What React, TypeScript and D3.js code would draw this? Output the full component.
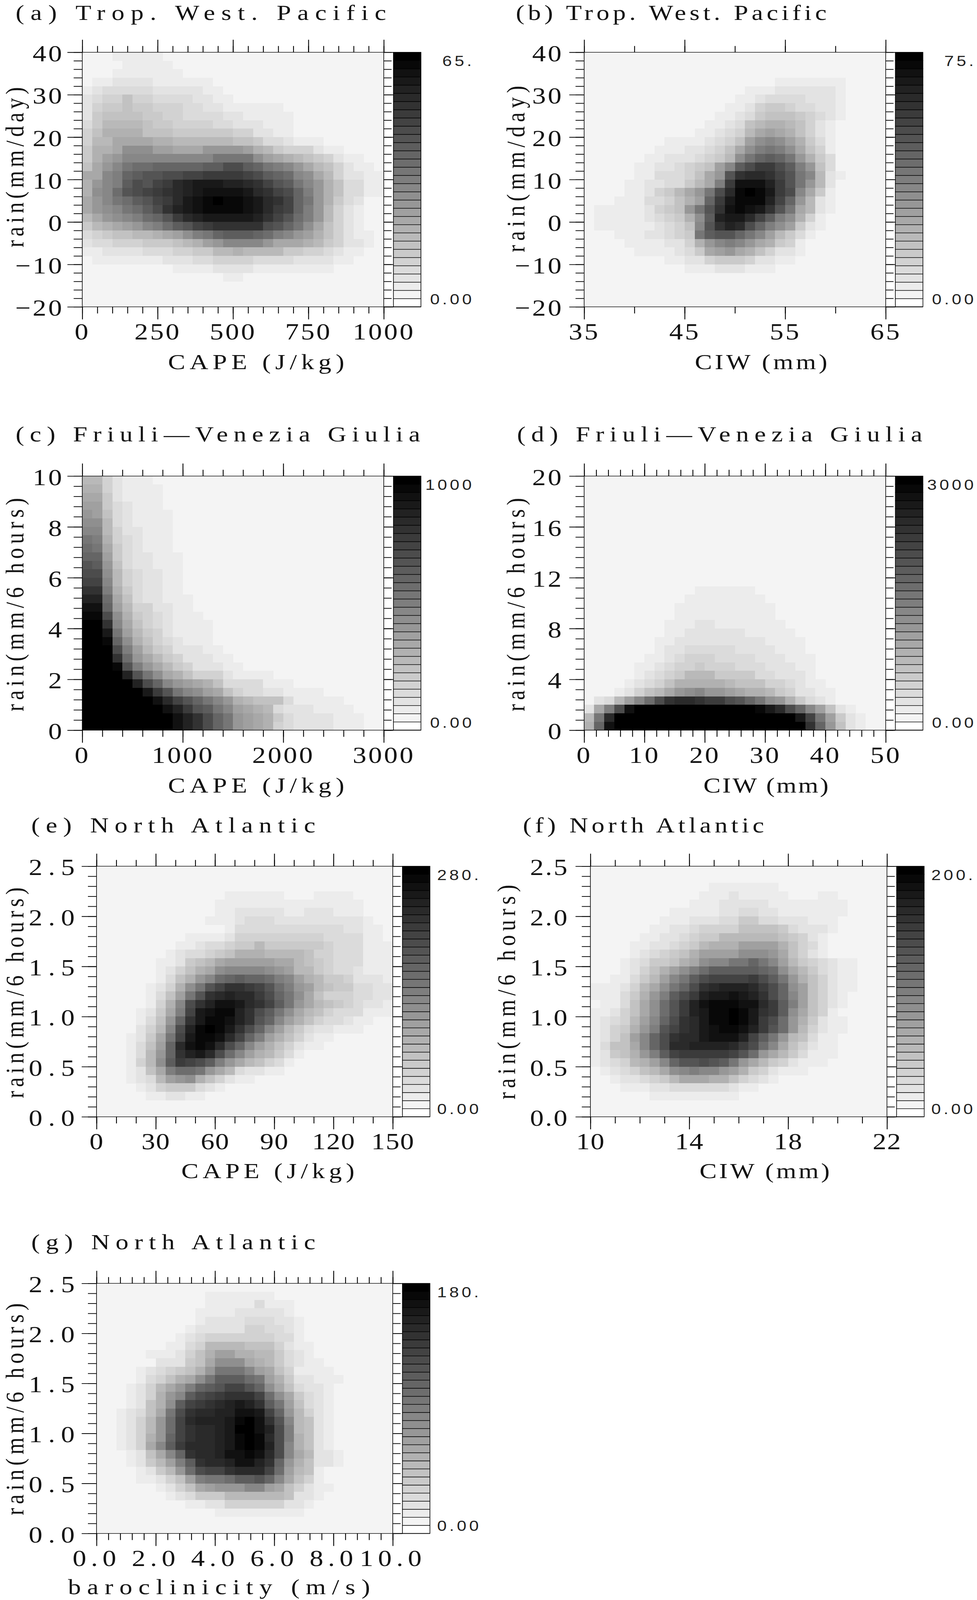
import * as d3 from "d3";
import { useEffect, useRef } from "react";

// Each row runs top to bottom: [first column, ...grey levels]; cells outside the run are level 1.
const tropCape: number[][] = [
  [3, 2,2,2,2,2],
  [4, 2,2,2,2,2],
  [3, 2,2,2,2,2,2,2],
  [1, 2,2,3,3,3,3,2,2,2,2,2,2],
  [0, 2,3,4,4,4,4,4,3,3,3,3,3,2,2],
  [0, 3,4,5,5,7,5,5,4,4,4,4,3,3,2,2],
  [0, 3,5,6,6,7,6,6,5,5,5,4,4,3,3,2,2,2,2,2,2],
  [0, 3,6,7,7,7,7,6,6,5,5,4,4,4,4,3,3,2,2,2,2,2],
  [0, 4,6,8,8,8,8,7,6,6,5,5,5,5,4,4,3,3,3,2,2,2],
  [0, 5,7,9,9,9,9,7,7,7,6,6,6,6,6,6,5,5,3,3,2,2],
  [0, 5,8,8,10,10,10,10,9,9,8,8,8,8,8,8,7,7,6,4,4,3,2,2,2],
  [0, 6,9,9,10,13,13,13,11,11,10,10,10,12,12,12,12,11,9,8,6,5,5,5,3,2,2],
  [0, 6,9,11,12,14,14,14,14,14,14,14,14,14,16,16,16,16,13,11,10,9,8,7,6,5,3,2,2],
  [0, 7,10,12,14,16,17,17,18,18,18,18,18,19,19,21,21,19,18,16,15,14,12,10,8,7,5,3,2,2],
  [0, 10,10,14,15,18,19,20,20,21,21,22,22,23,23,23,23,22,21,19,18,17,14,13,10,8,5,3,3,2,2],
  [0, 9,12,14,15,19,21,20,22,23,25,26,27,27,27,26,26,25,24,22,20,19,16,14,12,9,7,4,4,2,2],
  [0, 9,13,14,17,20,21,22,23,24,25,26,27,28,28,28,28,27,25,24,22,21,18,15,12,9,7,4,4,2,2],
  [0, 10,12,14,16,17,19,20,22,23,25,27,28,29,30,29,29,28,27,25,24,22,18,16,12,9,6,4,3],
  [0, 10,12,13,14,16,17,19,21,24,26,27,28,29,29,29,29,28,27,25,23,22,18,15,12,8,5,3,2],
  [0, 8,10,12,13,14,15,17,18,20,23,25,26,27,27,27,27,27,26,24,22,20,17,15,12,8,5,3,2],
  [0, 6,8,9,10,11,12,14,15,17,19,20,22,23,24,24,24,24,24,21,20,18,16,13,10,7,5,3,2],
  [0, 4,5,6,7,7,8,8,9,10,11,13,15,16,18,19,19,19,18,17,15,14,12,11,9,7,5,3,2,2],
  [0, 3,4,4,5,5,5,6,6,6,7,8,9,11,12,14,14,14,14,12,10,10,10,9,8,6,5,3,3,2],
  [0, 2,2,3,3,3,3,4,4,4,5,5,6,6,8,8,9,8,8,8,8,6,6,5,5,4,3,2,2],
  [1, 2,2,2,2,2,2,2,3,3,3,4,4,5,5,5,5,4,4,4,4,3,3,3,3,2,2],
  [9, 2,2,2,2,3,3,3,3,2,2,2,2,2,2,2,2],
  [14, 2,2],
  [],
  [],
  [],
];

const tropCiw: number[][] = [
  [],
  [],
  [],
  [19, 2,2,2,2,2,2,2],
  [16, 2,2,2,3,3,3,3,3,3,2],
  [15, 2,2,3,4,4,4,4,3,3,3,2],
  [14, 2,2,3,5,6,6,5,4,4,3,3,2],
  [13, 2,2,3,4,6,7,7,7,6,5,4,3,2],
  [12, 2,2,3,4,7,8,9,9,8,7,5,3,2],
  [11, 2,2,3,4,5,8,10,11,10,9,7,5,3,2],
  [8, 2,2,2,2,3,4,5,7,11,13,14,13,11,9,6,4,2],
  [7, 2,2,2,3,3,4,5,7,10,13,15,16,15,13,10,7,5,2],
  [6, 2,2,3,3,3,4,5,6,8,13,16,18,19,18,16,12,9,6,4],
  [5, 2,2,3,3,4,5,6,7,11,14,19,21,23,23,21,19,15,12,7,4],
  [5, 2,2,4,4,4,5,7,10,12,20,24,25,25,24,22,20,16,14,8,3,2],
  [4, 2,2,3,3,4,4,6,8,10,15,23,28,28,28,26,23,20,16,12,8,3],
  [4, 2,2,3,5,6,8,10,12,16,21,25,29,30,29,27,23,21,14,10,6,2],
  [3, 2,2,2,4,4,5,7,9,11,18,23,27,29,29,29,26,22,18,12,8,3,2],
  [1, 2,2,2,2,2,3,5,6,7,12,16,20,24,28,29,28,27,24,20,16,10,8,3,2],
  [1, 2,2,2,2,2,3,4,5,6,9,13,19,26,27,27,25,22,19,15,13,9,5,2],
  [1, 2,2,2,2,2,2,3,4,5,7,14,20,24,26,25,21,18,15,13,11,6,3,2],
  [3, 2,2,2,3,3,4,5,6,16,19,20,20,18,16,14,11,8,6,4,2],
  [4, 2,2,2,2,3,3,5,9,12,14,15,14,12,10,9,6,5,2],
  [5, 2,2,2,2,3,4,6,10,11,12,10,9,7,5,3,3,2],
  [8, 2,2,3,3,5,6,6,6,5,3,3,2,2],
  [10, 2,2,2,3,3,3,2,2,2],
  [],
  [],
  [],
  [],
];

const friuliCape: number[][] = [
  [0, 8,8,5,3,2,2,2],
  [0, 9,9,5,3,2,2,2,2],
  [0, 10,10,6,3,2,2,2,2],
  [0, 11,11,6,4,3,2,2,2],
  [0, 12,11,7,4,3,2,2,2,2],
  [0, 13,13,8,4,3,2,2,2,2],
  [0, 14,14,8,5,3,3,2,2,2],
  [0, 16,15,9,5,4,3,2,2,2],
  [0, 17,16,10,6,4,3,2,2,2],
  [0, 18,18,11,6,4,3,3,2,2,2],
  [0, 20,19,12,7,4,3,3,2,2,2],
  [0, 21,21,13,8,5,4,3,3,2,2],
  [0, 22,22,14,8,5,4,3,3,2,2],
  [0, 24,24,15,9,6,4,3,3,2,2],
  [0, 26,26,17,10,7,4,3,3,2,2,2],
  [0, 28,28,18,11,8,5,5,3,3,2,2],
  [0, 29,29,21,13,9,6,5,4,3,2,2,2],
  [0, 30,30,24,14,10,7,5,4,3,2,2,2,2],
  [0, 30,30,27,16,11,8,6,5,3,2,2,2,2],
  [0, 30,30,29,18,13,9,7,5,4,3,2,2,2],
  [0, 30,30,30,21,15,11,8,6,5,3,3,3,2,2],
  [0, 30,30,30,24,17,12,10,8,6,5,3,3,3,2,2],
  [0, 30,30,30,29,20,15,12,10,8,6,5,3,3,3,2,2],
  [0, 30,30,30,30,26,20,16,13,10,9,7,5,5,5,3,2,2,2,2],
  [0, 30,30,30,30,30,26,21,18,14,12,11,10,9,7,4,4,4,4,2,2,2],
  [0, 30,30,30,30,30,30,27,23,20,16,14,13,11,10,7,5,4,4,3,3,2,2,2,2],
  [0, 30,30,30,30,30,30,30,28,25,22,20,18,16,14,12,9,8,7,7,7,4,2,2,2,2,2],
  [0, 30,30,30,30,30,30,30,30,28,26,23,20,19,16,14,11,10,9,8,4,3,3,3,2,2,2,2],
  [0, 30,30,30,30,30,30,30,30,30,28,26,24,21,18,16,12,11,10,9,6,4,3,3,3,3,2,2,2],
  [0, 30,30,30,30,30,30,30,30,30,28,26,24,21,18,16,12,11,10,9,5,4,3,3,3,3,2,2,2],
];

const friuliCiw: number[][] = [
  [], [], [], [], [], [], [], [], [], [], [], [], [],
  [11, 2,2,2,2,2,2],
  [10, 2,2,2,2,2,2,2,2],
  [9, 2,2,2,2,2,2,2,2,2,2],
  [9, 2,2,2,2,2,2,2,2,2,2],
  [8, 2,2,2,3,3,2,2,2,2,2,2,2],
  [8, 2,2,3,3,3,3,3,3,2,2,2,2,2],
  [7, 2,2,3,3,3,3,3,3,3,3,3,2,2,2,2],
  [7, 2,3,3,4,4,4,4,4,3,3,3,3,2,2,2],
  [6, 2,2,3,4,5,5,5,4,4,4,4,3,3,3,2,2,2],
  [5, 2,2,3,4,5,5,6,5,5,5,4,4,4,3,3,3,2,2],
  [5, 2,3,4,5,6,8,8,8,6,6,6,6,4,4,3,3,3,2],
  [4, 2,3,4,5,7,9,9,9,9,9,8,7,7,7,5,5,4,3,2,2],
  [3, 2,3,5,7,8,10,12,13,14,12,12,11,10,9,9,8,6,5,3,3,2,2],
  [1, 3,4,8,11,14,17,21,24,25,25,24,23,23,21,20,18,16,13,12,9,6,4,3,2],
  [0, 3,10,15,21,28,30,30,30,30,30,30,30,30,30,30,30,30,29,27,25,21,18,14,11,7,3,2],
  [0, 8,16,25,30,30,30,30,30,30,30,30,30,30,30,30,30,30,30,30,30,30,27,22,16,11,6,3,2],
  [0, 9,18,28,30,30,30,30,30,30,30,30,30,30,30,30,30,30,30,30,30,30,30,24,18,12,7,3,2],
];

const atlanticCape: number[][] = [
  [], [], [],
  [13, 2,2,2,2,2,2,1,1,1,2,2,2,2],
  [12, 2,2,2,2,2,2,2,2,2,2,2,2,2,2,2],
  [12, 2,2,3,3,3,3,3,2,2,3,3,3,2,2,2],
  [11, 2,2,2,3,4,4,4,3,3,3,3,3,3,3,3,3,2],
  [13, 2,4,4,4,4,4,4,4,4,4,4,4,3,3,2,2],
  [9, 2,2,2,2,3,5,5,5,5,5,5,5,5,5,4,4,4,4,2,2],
  [8, 2,2,3,4,4,5,6,6,8,6,6,6,6,6,6,5,4,4,4,2,2,2],
  [7, 2,3,4,4,5,6,7,9,9,9,8,8,8,8,7,5,5,4,4,4,2,2,2],
  [6, 2,2,3,6,7,8,10,11,11,11,11,11,10,10,8,7,6,5,4,4,4,2,2,2],
  [6, 2,3,5,7,9,10,13,14,14,14,14,13,12,11,8,8,6,5,4,4,3,2,2,2],
  [6, 2,4,7,9,12,14,17,18,19,18,18,17,15,14,11,9,8,6,6,5,3,3,3,2],
  [5, 2,3,5,9,13,16,20,22,24,24,23,22,20,17,15,12,11,8,7,6,6,4,4,3,3],
  [5, 2,4,7,11,16,20,24,25,26,25,25,23,21,18,16,13,10,7,5,5,5,4,4,3,3],
  [5, 2,5,9,14,21,24,26,28,28,27,25,24,22,19,16,12,10,8,7,6,5,4,3,3,2],
  [4, 2,3,6,10,15,22,27,28,29,29,26,24,21,19,16,13,10,8,7,5,4,4,4,2,2,2],
  [4, 2,4,7,12,18,24,27,29,29,28,26,24,20,18,14,11,9,7,5,4,4,3,2,2],
  [4, 3,5,8,14,21,26,29,30,29,27,24,21,18,14,11,8,6,4,3,3,2,2,2],
  [3, 2,3,6,10,16,22,27,29,29,28,25,22,18,15,11,9,7,5,3,2,2],
  [3, 2,4,7,11,18,25,28,29,28,25,21,18,14,11,9,7,5,3,2,2],
  [3, 2,4,8,12,18,24,26,27,25,21,17,14,11,9,8,6,4,2],
  [3, 2,5,8,13,19,23,22,21,19,15,12,10,8,7,5,4,2],
  [3, 2,3,7,10,15,17,17,16,12,10,8,4,3,3,2,2],
  [3, 2,3,4,8,11,12,13,9,7,5,3,2,2],
  [4, 2,3,5,6,6,6,4,3,2],
  [5, 2,2,3,3,2,2],
  [],
  [],
];

const atlanticCiw: number[][] = [
  [], [],
  [12, 2,2,2,2,2,2,2],
  [11, 2,2,2,3,2,2,2,2,2,1,1,1,2,2],
  [10, 2,2,2,3,3,3,3,3,2,2,2,2,2,2,2,2],
  [8, 2,2,2,2,2,3,3,4,4,3,3,2,2,2,2,2,2,2],
  [7, 2,2,2,3,3,3,4,4,6,6,4,4,3,3,3,2,2,2],
  [6, 2,2,3,3,4,5,5,5,5,7,7,7,7,6,4,3,3,3,2],
  [5, 2,2,3,3,4,5,6,6,8,8,8,8,8,8,7,6,5,3,2],
  [4, 2,2,3,3,4,5,6,8,9,9,9,11,11,11,11,9,7,5,4,2],
  [4, 2,3,4,5,6,7,9,11,11,11,11,13,13,13,12,10,7,5,3,2],
  [3, 2,3,4,6,6,7,9,10,13,14,14,16,16,18,16,14,11,8,6,5,4,3,2,2],
  [3, 2,3,5,7,9,11,13,15,17,19,19,19,19,19,18,17,13,10,8,6,4,3,2,2],
  [2, 2,2,4,6,8,11,14,16,19,21,22,22,22,22,23,21,19,16,12,9,7,5,3,2,2],
  [0, 2,2,2,3,5,8,10,13,16,18,21,24,25,26,26,26,25,23,21,18,13,11,7,5,3,2,2],
  [0, 2,2,2,4,6,9,12,15,19,21,23,26,27,27,28,27,26,24,21,18,14,11,7,5,3,2],
  [1, 2,2,4,7,10,13,17,20,23,26,28,29,29,29,28,28,25,23,19,15,11,7,5,3,2],
  [0, 2,2,3,5,7,10,13,17,20,23,26,27,29,29,30,29,27,24,23,19,13,10,7,5,2],
  [0, 2,3,4,5,8,11,14,18,21,24,25,27,29,29,30,29,27,23,21,17,12,9,6,3,2,2],
  [0, 2,3,5,6,9,12,15,20,22,24,25,27,28,29,29,28,26,23,20,17,12,8,5,3,2,2],
  [0, 2,3,5,7,11,14,18,21,24,25,25,27,28,28,28,26,22,19,16,12,8,7,4,2,2],
  [0, 2,4,7,7,10,14,18,21,25,25,26,26,26,26,25,23,21,17,14,10,7,5,3,2,2],
  [0, 2,3,6,7,9,12,15,19,22,23,23,23,23,23,22,20,17,12,10,8,6,4,2,2,2],
  [0, 2,3,4,5,8,9,11,14,18,20,20,21,20,19,16,12,10,8,6,5,3,2,2,2],
  [1, 2,3,4,5,7,8,10,13,14,15,14,14,12,11,9,6,5,3,2,2,2],
  [2, 2,3,3,4,5,6,8,10,10,10,9,9,7,5,4,3,2],
  [3, 2,2,2,3,3,4,4,4,4,4,4,3,2,2],
  [6, 2,2,2,2,2,2,2,2,2],
  [],
  [],
];

const atlanticBaroc: number[][] = [
  [],
  [11, 2,2,2,2,2,2,2],
  [11, 2,2,2,2,2,4,2,2,2],
  [10, 2,2,2,2,3,3,3,3,3,2],
  [10, 2,3,3,3,3,4,4,4,3,3,2],
  [9, 2,3,3,3,3,3,5,5,4,4,3,2],
  [8, 2,3,4,5,5,5,5,5,5,5,4,4,2],
  [7, 2,2,4,5,8,8,8,8,7,7,7,5,3,2,2],
  [5, 2,2,2,3,5,7,9,11,11,9,9,8,8,6,4,3,2],
  [6, 3,3,3,6,7,10,13,13,13,10,9,8,6,4,3,2,2],
  [4, 2,3,4,5,6,7,9,12,16,16,16,14,11,10,7,5,2,2,2,2],
  [4, 2,4,5,7,9,10,13,16,19,19,19,17,16,11,9,6,3,3,2,2,2],
  [3, 2,3,5,8,10,12,15,18,19,20,22,22,20,18,13,10,7,4,3,3,2],
  [3, 2,3,5,9,12,14,19,21,22,23,24,24,24,22,17,13,10,6,4,3,2],
  [3, 2,3,7,9,13,19,22,23,24,25,26,27,26,24,19,16,11,7,4,3,2],
  [2, 2,3,4,7,10,16,21,24,25,25,26,26,28,28,27,22,18,12,8,5,3,2],
  [2, 2,3,5,8,12,17,22,25,26,26,26,27,29,30,28,24,20,14,8,7,3,2],
  [2, 2,3,5,8,12,17,22,24,25,25,26,27,30,30,28,26,21,15,8,7,3,2],
  [2, 2,3,5,9,12,18,22,24,25,25,26,27,29,30,29,25,21,15,9,7,3,2],
  [2, 2,3,5,10,14,19,23,25,25,25,26,27,29,30,29,26,21,14,9,7,3,2],
  [3, 2,3,7,10,14,18,24,25,25,26,28,28,29,28,25,21,14,10,8,3,3,2],
  [3, 2,3,6,8,11,15,19,24,25,25,26,28,28,26,24,18,12,9,7,3,3,2],
  [4, 2,3,6,8,12,17,21,22,22,24,25,25,25,22,17,11,8,7,2],
  [4, 2,2,3,5,7,11,15,16,16,17,19,19,20,18,14,10,7,5,2],
  [6, 2,3,5,7,10,11,12,12,12,14,14,11,10,7,5,3,2,2],
  [7, 2,3,4,6,6,6,8,8,8,8,8,8,7,3,3,2],
  [9, 2,2,3,3,5,5,5,5,5,5,3,3,2],
  [12, 2,2,2,2,2,2,2,2,2],
  [],
  [],
];

const rainDay = { domain: [-20, 40], majors: [-20, -10, 0, 10, 20, 30, 40], sub: 5 };
const rainFriuli10 = { domain: [0, 10], majors: [0, 2, 4, 6, 8, 10], sub: 5 };
const rainFriuli20 = { domain: [0, 20], majors: [0, 4, 8, 12, 16, 20], sub: 5 };
const rainAtlantic = { domain: [0, 2.5], majors: [0, 0.5, 1, 1.5, 2, 2.5], sub: 5 };

const panels = [
  { id: "a", title: "(a) Trop. West. Pacific", xLabel: "CAPE (J/kg)", yLabel: "rain(mm/day)", max: "65.", cells: tropCape,
    xDomain: [0, 1000], xMajors: [0, 250, 500, 750, 1000], xSub: 5, xFmt: "d", y: rainDay, yFmt: "d",
    left: 210.5, right: 982, top: 158.5, bottom: 930.5, barRight: 232, xSpace: 5, ySpace: 5, yPad: 9,
    titleX: 40, titleLen: 948, titleY: 60, xLabelX: 430, xLabelLen: 451, xLabelY: 1119, yLabelX: 60, yLabelBottom: 750, yLabelLen: 486 },
  { id: "b", title: "(b) Trop. West. Pacific", xLabel: "CIW (mm)", yLabel: "rain(mm/day)", max: "75.", cells: tropCiw,
    xDomain: [35, 65], xMajors: [35, 45, 55, 65], xSub: 2, xFmt: "d", y: rainDay, yFmt: "d",
    left: 1494.7, right: 2266.4, top: 158.5, bottom: 930.5, barRight: 232, xSpace: 5, ySpace: 5, yPad: 15,
    titleX: 1320, titleLen: 795, titleY: 60, xLabelX: 1778, xLabelLen: 339, xLabelY: 1119, yLabelX: 1342, yLabelBottom: 765, yLabelLen: 505 },
  { id: "c", title: "(c) Friuli\u2014Venezia Giulia", xLabel: "CAPE (J/kg)", yLabel: "rain(mm/6 hours)", max: "1000", cells: friuliCape,
    xDomain: [0, 3000], xMajors: [0, 1000, 2000, 3000], xSub: 5, xFmt: "d", y: rainFriuli10, yFmt: "d",
    left: 210.5, right: 982, top: 1443.6, bottom: 2214.3, barRight: 232, xSpace: 5, ySpace: 5, yPad: 9,
    titleX: 40, titleLen: 1035, titleY: 1338, xLabelX: 430, xLabelLen: 451, xLabelY: 2403, yLabelX: 60, yLabelBottom: 2157, yLabelLen: 647 },
  { id: "d", title: "(d) Friuli\u2014Venezia Giulia", xLabel: "CIW (mm)", yLabel: "rain(mm/6 hours)", max: "3000", cells: friuliCiw,
    xDomain: [0, 50], xMajors: [0, 10, 20, 30, 40, 50], xSub: 5, xFmt: "d", y: rainFriuli20, yFmt: "d",
    left: 1494.7, right: 2266.4, top: 1443.6, bottom: 2214.3, barRight: 232, xSpace: 5, ySpace: 5, yPad: 15,
    titleX: 1323, titleLen: 1037, titleY: 1338, xLabelX: 1800, xLabelLen: 320, xLabelY: 2403, yLabelX: 1342, yLabelBottom: 2157, yLabelLen: 647 },
  { id: "e", title: "(e) North Atlantic", xLabel: "CAPE (J/kg)", yLabel: "rain(mm/6 hours)", max: "280.", cells: atlanticCape,
    xDomain: [0, 150], xMajors: [0, 30, 60, 90, 120, 150], xSub: 3, xFmt: "d", y: rainAtlantic, yFmt: ".1f",
    left: 247, right: 1005, top: 2626.8, bottom: 3386.7, barRight: 227, xSpace: 2, ySpace: 15, yPad: 3,
    titleX: 80, titleLen: 727, titleY: 2524, xLabelX: 464, xLabelLen: 443, xLabelY: 3573, yLabelX: 60, yLabelBottom: 3330, yLabelLen: 639 },
  { id: "f", title: "(f) North Atlantic", xLabel: "CIW (mm)", yLabel: "rain(mm/6 hours)", max: "200.", cells: atlanticCiw,
    xDomain: [10, 22], xMajors: [10, 14, 18, 22], xSub: 4, xFmt: "d", y: rainAtlantic, yFmt: ".1f",
    left: 1510.7, right: 2269.6, top: 2626.8, bottom: 3386.7, barRight: 227, xSpace: 2, ySpace: 4, yPad: 17,
    titleX: 1338, titleLen: 617, titleY: 2524, xLabelX: 1790, xLabelLen: 333, xLabelY: 3573, yLabelX: 1318, yLabelBottom: 3334, yLabelLen: 651 },
  { id: "g", title: "(g) North Atlantic", xLabel: "baroclinicity (m/s)", yLabel: "rain(mm/6 hours)", max: "180.", cells: atlanticBaroc,
    xDomain: [0, 10], xMajors: [0, 2, 4, 6, 8, 10], xSub: 5, xFmt: ".1f", y: rainAtlantic, yFmt: ".1f",
    left: 247, right: 1005, top: 3891.8, bottom: 4650.2, barRight: 227, xSpace: 12, ySpace: 15, yPad: 3,
    titleX: 80, titleLen: 727, titleY: 3788, xLabelX: 174, xLabelLen: 773, xLabelY: 4834, yLabelX: 60, yLabelBottom: 4595, yLabelLen: 643 },
];

const serif = "'Liberation Serif', serif";
const sans = "'Liberation Sans', sans-serif";
const nCells = 30;
const nLevels = 31;

const grey = d3.scaleLinear<number>().domain([0, 1, 30]).range([255, 244, 0]);
const greyColor = (level: number) => {
  const g = Math.round(grey(level));
  return `rgb(${g},${g},${g})`;
};

function minorTicks(domain: number[], majors: number[], sub: number) {
  const step = (majors[1] - majors[0]) / sub;
  const n = Math.round((domain[1] - domain[0]) / step);
  return d3.range(n + 1).map((i) => domain[0] + i * step);
}

function drawPanel(root: d3.Selection<SVGSVGElement, unknown, null, undefined>, p: (typeof panels)[number]) {
  const x = d3.scaleLinear().domain(p.xDomain).range([p.left, p.right]);
  const y = d3.scaleLinear().domain(p.y.domain).range([p.bottom, p.top]);
  const col = d3.scaleBand<number>().domain(d3.range(nCells)).range([p.left, p.right]);
  const row = d3.scaleBand<number>().domain(d3.range(nCells)).range([p.top, p.bottom]);
  const g = root.append("g").attr("class", `panel-${p.id}`);

  // background level, then the runs of cells above it
  g.append("rect")
    .attr("x", p.left)
    .attr("y", p.top)
    .attr("width", p.right - p.left)
    .attr("height", p.bottom - p.top)
    .attr("fill", greyColor(1));
  const cells = p.cells.flatMap((r, ri) =>
    r.slice(1).map((level, i) => ({ c: r[0] + i, r: ri, level }))
  );
  g.append("g")
    .attr("shape-rendering", "crispEdges")
    .selectAll("rect")
    .data(cells)
    .join("rect")
    .attr("x", (d) => col(d.c) ?? 0)
    .attr("y", (d) => row(d.r) ?? 0)
    .attr("width", col.bandwidth() + 0.5)
    .attr("height", row.bandwidth() + 0.5)
    .attr("fill", (d) => greyColor(d.level));

  // colour bar
  const barLeft = p.right + 24.7;
  const barRight = barLeft + 70.5;
  const bar = d3.scaleBand<number>().domain(d3.range(nLevels - 1, -1, -1)).range([p.top, p.bottom]);
  g.append("rect")
    .attr("x", p.right)
    .attr("y", p.top)
    .attr("width", barLeft - p.right)
    .attr("height", p.bottom - p.top)
    .attr("fill", "#fff");
  g.append("g")
    .selectAll("rect")
    .data(d3.range(nLevels))
    .join("rect")
    .attr("x", barLeft)
    .attr("y", (d) => bar(d) ?? 0)
    .attr("width", barRight - barLeft)
    .attr("height", bar.bandwidth())
    .attr("fill", (d) => greyColor(d))
    .attr("stroke", "#000")
    .attr("stroke-width", 1.6);
  g.append("text")
    .attr("x", p.right + p.barRight)
    .attr("y", p.top + 42)
    .attr("text-anchor", "end")
    .attr("font-family", sans)
    .attr("font-size", 44)
    .attr("letter-spacing", 7)
    .attr("fill", "#222")
    .text(p.max);
  g.append("text")
    .attr("x", p.right + p.barRight)
    .attr("y", p.bottom - 8)
    .attr("text-anchor", "end")
    .attr("font-family", sans)
    .attr("font-size", 44)
    .attr("letter-spacing", 7)
    .attr("fill", "#222")
    .text("0.00");

  // axes: minor ticks first, then the labelled majors
  const xMinor = minorTicks(p.xDomain, p.xMajors, p.xSub);
  const yMinor = minorTicks(p.y.domain, p.y.majors, p.y.sub);
  const axisStyle = (a: d3.Selection<SVGGElement, unknown, null, undefined>, space: number) => {
    a.select(".domain").remove();
    a.selectAll("line").attr("stroke", "#000").attr("stroke-width", 2.2);
    a.selectAll("text")
      .attr("font-family", serif)
      .attr("font-size", 70)
      .attr("fill", "#111")
      .attr("letter-spacing", space);
  };
  const add = (tf: string, axis: d3.Axis<d3.NumberValue>, space = 0) => {
    const a = g.append("g").attr("transform", tf).call(axis as never) as unknown as d3.Selection<SVGGElement, unknown, null, undefined>;
    axisStyle(a, space);
    return a;
  };

  const xFmt = d3.format(p.xFmt);
  const yFmt = d3.format(p.yFmt);
  add(`translate(0,${p.bottom})`, d3.axisBottom(x).tickValues(xMinor).tickSize(20).tickFormat(() => ""));
  add(`translate(0,${p.top})`, d3.axisTop(x).tickValues(xMinor).tickSize(19).tickFormat(() => ""));
  add(`translate(${p.left},0)`, d3.axisLeft(y).tickValues(yMinor).tickSize(22).tickFormat(() => ""));
  add(`translate(${p.right},0)`, d3.axisRight(y).tickValues(yMinor).tickSize(20).tickFormat(() => ""));
  add(`translate(0,${p.top})`, d3.axisTop(x).tickValues(p.xMajors).tickSize(38).tickFormat(() => ""));
  add(`translate(${p.right},0)`, d3.axisRight(y).tickValues(p.y.majors).tickSize(24.7).tickFormat(() => ""));
  add(`translate(0,${p.bottom})`, d3.axisBottom(x).tickValues(p.xMajors).tickSize(38).tickPadding(11).tickFormat((d) => xFmt(d as number)), p.xSpace);
  const yAxis = add(`translate(${p.left},0)`, d3.axisLeft(y).tickValues(p.y.majors).tickSize(38).tickPadding(p.yPad).tickFormat((d) => yFmt(d as number).replace("-", "\u2212")), p.ySpace);
  yAxis.selectAll("text").attr("dy", "0.38em");

  // frame
  g.append("rect")
    .attr("x", p.left)
    .attr("y", p.top)
    .attr("width", p.right - p.left)
    .attr("height", p.bottom - p.top)
    .attr("fill", "none")
    .attr("stroke", "#000")
    .attr("stroke-width", 1.6);
  g.append("line")
    .attr("x1", p.right)
    .attr("x2", barRight)
    .attr("y1", p.bottom)
    .attr("y2", p.bottom)
    .attr("stroke", "#000")
    .attr("stroke-width", 2.2);

  // titles
  const label = (sel: d3.Selection<SVGTextElement, unknown, null, undefined>, len: number, txt: string) =>
    sel
      .attr("font-family", serif)
      .attr("font-size", 66)
      .attr("fill", "#111")
      .attr("textLength", len)
      .attr("lengthAdjust", "spacing")
      .text(txt);
  label(g.append("text").attr("x", p.titleX).attr("y", p.titleY), p.titleLen, p.title);
  label(g.append("text").attr("x", p.xLabelX).attr("y", p.xLabelY), p.xLabelLen, p.xLabel);
  label(
    g.append("text").attr("transform", `translate(${p.yLabelX},${p.yLabelBottom}) rotate(-90)`),
    p.yLabelLen,
    p.yLabel
  );
}

function App() {
  const ref = useRef<SVGSVGElement | null>(null);
  useEffect(() => {
    if (!ref.current) return;
    document.body.style.margin = "0";
    document.documentElement.style.overflow = "hidden";
    const svg = d3.select(ref.current);
    svg.selectAll("*").remove();
    panels.forEach((p) => drawPanel(svg, p));
  }, []);
  // sized to the window: the 2500x4852 drawing stays whole if the window is shorter than asked
  return (
    <svg
      ref={ref}
      viewBox="0 0 2500 4852"
      preserveAspectRatio="none"
      style={{ background: "#fff", display: "block", width: "100vw", height: "100vh" }}
    />
  );
}

export default App;
